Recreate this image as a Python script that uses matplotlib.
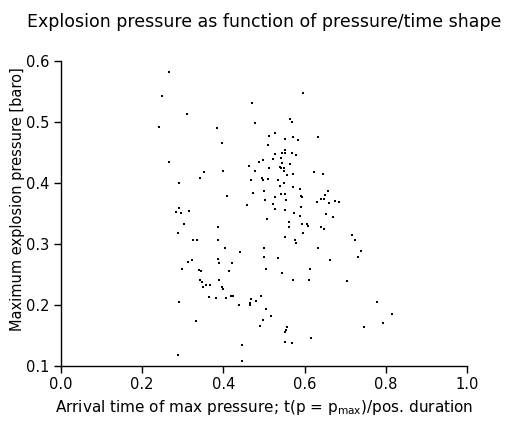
import matplotlib
matplotlib.use('Agg')
import matplotlib.pyplot as plt

# Arrival time of max pressure (fraction of positive duration)
arrival = [
    0.266, 0.248, 0.310, 0.242, 0.384, 0.397,
    0.267, 0.353, 0.399, 0.343, 0.292, 0.410, 0.292, 0.284, 0.295, 0.316,
    0.304, 0.388, 0.289, 0.325, 0.334, 0.386, 0.404, 0.388, 0.390, 0.323,
    0.314, 0.422,
    0.298, 0.340, 0.345, 0.413, 0.343, 0.348, 0.390, 0.357, 0.351, 0.366,
    0.396, 0.400, 0.365, 0.383, 0.407, 0.419, 0.424, 0.292, 0.333, 0.289,
    0.595, 0.471, 0.479, 0.565, 0.570, 0.634, 0.512, 0.528, 0.552, 0.571,
    0.584, 0.511, 0.552, 0.527, 0.545, 0.552, 0.568, 0.578, 0.543, 0.521,
    0.498, 0.487, 0.544, 0.565,
    0.463, 0.539, 0.541, 0.549, 0.512, 0.549, 0.479, 0.557, 0.571, 0.624,
    0.644, 0.495, 0.509, 0.534, 0.467, 0.498, 0.548, 0.540, 0.571, 0.589,
    0.658, 0.474, 0.501, 0.541, 0.552, 0.649, 0.527, 0.591, 0.594, 0.639,
    0.648, 0.503, 0.555, 0.630, 0.659, 0.675, 0.685, 0.523, 0.459, 0.590,
    0.528, 0.552, 0.573, 0.652, 0.588, 0.670, 0.508, 0.562, 0.594, 0.605,
    0.607, 0.562, 0.639, 0.648, 0.597, 0.552, 0.716, 0.577, 0.578, 0.725,
    0.500, 0.634, 0.739, 0.441, 0.499, 0.535, 0.730, 0.662,
    0.505, 0.545, 0.614, 0.572, 0.611, 0.703, 0.468, 0.493, 0.480, 0.465,
    0.466, 0.439, 0.505, 0.516, 0.497, 0.491, 0.556, 0.553, 0.552, 0.747,
    0.616, 0.552, 0.570, 0.447, 0.446,
    0.779, 0.816, 0.792,
]

# Maximum explosion pressure [bar]
pressure = [
    0.581, 0.542, 0.513, 0.491, 0.490, 0.466,
    0.434, 0.418, 0.419, 0.408, 0.400, 0.379, 0.358, 0.352, 0.350, 0.353,
    0.333, 0.327, 0.318, 0.306, 0.306, 0.306, 0.293, 0.275, 0.268, 0.273,
    0.271, 0.268,
    0.259, 0.257, 0.256, 0.255, 0.241, 0.238, 0.240, 0.233, 0.230, 0.233,
    0.230, 0.226, 0.213, 0.211, 0.211, 0.214, 0.214, 0.205, 0.174, 0.118,
    0.547, 0.530, 0.498, 0.505, 0.499, 0.475, 0.477, 0.482, 0.472, 0.475,
    0.470, 0.462, 0.454, 0.447, 0.449, 0.449, 0.449, 0.446, 0.441, 0.439,
    0.437, 0.434, 0.433, 0.431,
    0.428, 0.426, 0.424, 0.425, 0.424, 0.420, 0.419, 0.413, 0.414, 0.418,
    0.414, 0.408, 0.407, 0.405, 0.404, 0.404, 0.400, 0.395, 0.393, 0.390,
    0.387, 0.384, 0.386, 0.382, 0.381, 0.380, 0.377, 0.378, 0.376, 0.374,
    0.374, 0.372, 0.372, 0.368, 0.367, 0.370, 0.368, 0.366, 0.363, 0.360,
    0.357, 0.355, 0.350, 0.349, 0.346, 0.344, 0.341, 0.336, 0.333, 0.333,
    0.330, 0.328, 0.328, 0.324, 0.318, 0.312, 0.315, 0.306, 0.301, 0.306,
    0.293, 0.293, 0.288, 0.287, 0.279, 0.277, 0.279, 0.274,
    0.258, 0.252, 0.258, 0.240, 0.240, 0.239, 0.209, 0.214, 0.207, 0.203,
    0.200, 0.199, 0.194, 0.182, 0.176, 0.165, 0.163, 0.159, 0.156, 0.164,
    0.146, 0.140, 0.137, 0.134, 0.108,
    0.204, 0.185, 0.171,
]

x_ticks = [0.0, 0.2, 0.4, 0.6, 0.8, 1.0]
y_ticks = [0.1, 0.2, 0.3, 0.4, 0.5, 0.6]

fig = plt.figure(figsize=(5.06, 4.26), dpi=100)
ax = fig.add_axes([0.12, 0.141, 0.8035, 0.7165])

ax.scatter(arrival, pressure, marker='s', s=3, color='black', linewidths=0)

ax.set_xlim(0.0, 1.0)
ax.set_ylim(0.1, 0.6)
ax.set_xticks(x_ticks)
ax.set_yticks(y_ticks)
ax.set_xticklabels(['%.1f' % v for v in x_ticks])
ax.set_yticklabels(['%.1f' % v for v in y_ticks])

ax.spines['top'].set_visible(False)
ax.spines['right'].set_visible(False)
for s in ('left', 'bottom'):
    ax.spines[s].set_linewidth(1.0)
ax.tick_params(direction='out', length=5, width=1.0, labelsize=10.5, pad=3)

ax.set_xlabel(r'Arrival time of max pressure; t(p = p$_{\mathrm{max}}$)/pos. duration',
              fontsize=11, labelpad=4)
ax.set_ylabel('Maximum explosion pressure [baro]', fontsize=10.5)
ax.yaxis.set_label_coords(-0.088, 0.545)
fig.text(0.522, 0.948, 'Explosion pressure as function of pressure/time shape',
         ha='center', va='center', fontsize=12.5)

fig.savefig('out.png', dpi=100)
